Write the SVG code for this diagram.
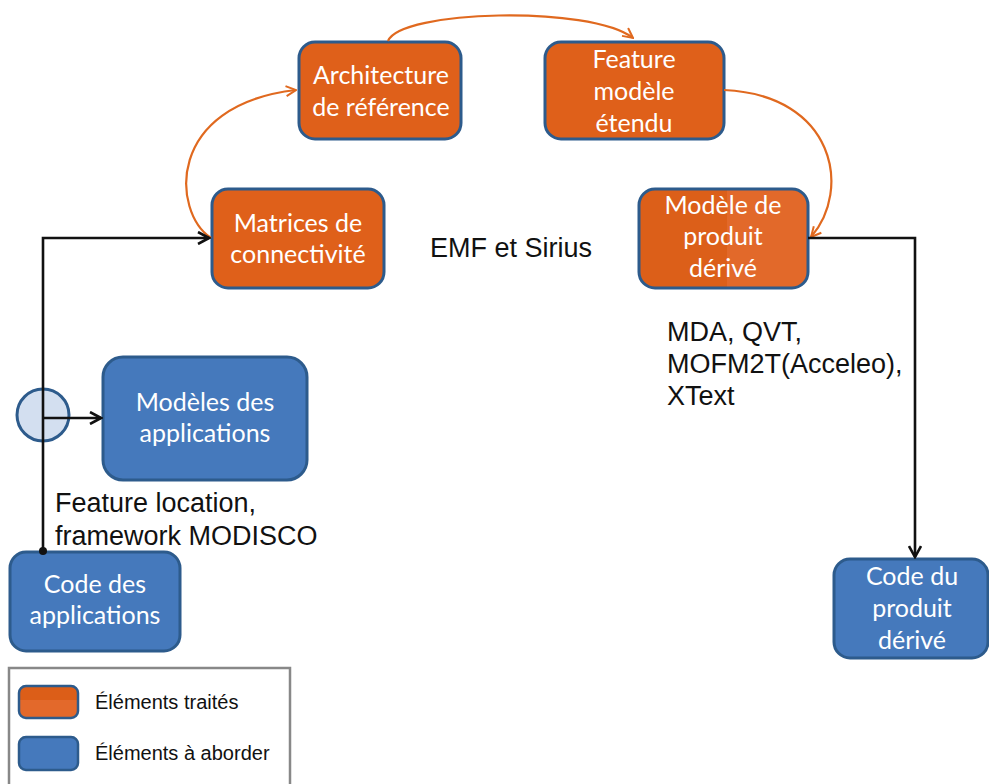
<svg xmlns="http://www.w3.org/2000/svg" width="989" height="784" viewBox="0 0 989 784">
<defs>
<marker id="ao" viewBox="0 0 12 12" refX="11" refY="6" markerWidth="12" markerHeight="12" markerUnits="userSpaceOnUse" orient="auto">
<path d="M1,1 L11,6 L1,11" fill="none" stroke="#e0691f" stroke-width="2"/>
</marker>
<marker id="ab" viewBox="0 0 14 14" refX="12" refY="7" markerWidth="14" markerHeight="14" markerUnits="userSpaceOnUse" orient="auto">
<path d="M1,1 L12,7 L1,13" fill="none" stroke="#111" stroke-width="2.6"/>
</marker>
<linearGradient id="split" x1="0" y1="0" x2="1" y2="0">
<stop offset="0" stop-color="#dc5f19"/><stop offset="0.52" stop-color="#dc5f19"/>
<stop offset="0.52" stop-color="#e2692a"/><stop offset="1" stop-color="#e2692a"/>
</linearGradient>
<linearGradient id="sw" x1="0" y1="0" x2="0" y2="1">
<stop offset="0" stop-color="#dc5e18"/><stop offset="0.45" stop-color="#dc5e18"/>
<stop offset="0.45" stop-color="#e3692b"/><stop offset="1" stop-color="#e3692b"/>
</linearGradient>
</defs>
<style>
.o{fill:#df601a;stroke:#2d5b8c;stroke-width:3}
.b{fill:#4579bc;stroke:#2d5b8c;stroke-width:3}
.wt{fill:#fff;font-family:Lato,"Open Sans",sans-serif;font-size:25px;text-anchor:middle}
.bt{fill:#111;font-family:"Liberation Sans",Arial,sans-serif;font-size:27px}
.lt{fill:#111;font-family:"Liberation Sans",Arial,sans-serif;font-size:20px}
.cb{fill:none;stroke:#111;stroke-width:2.6}
.co{fill:none;stroke:#e0691f;stroke-width:2.2}
</style>
<rect width="989" height="784" fill="#fff"/>
<g id="n-arch">
<rect class="o" x="299" y="42" width="162" height="97" rx="16"/>
<text class="wt" x="381" y="84">Architecture</text>
<text class="wt" x="381" y="116">de référence</text>
</g>
<g id="n-feat">
<rect class="o" x="545" y="42" width="179" height="97" rx="16"/>
<text class="wt" x="634" y="68">Feature</text>
<text class="wt" x="634" y="100">modèle</text>
<text class="wt" x="634" y="132">étendu</text>
</g>
<g id="n-mat">
<rect class="o" x="212" y="189" width="172" height="99" rx="16"/>
<text class="wt" x="298" y="232">Matrices de</text>
<text class="wt" x="298" y="263">connectivité</text>
</g>
<g id="n-mod">
<rect x="639" y="189" width="169" height="99" rx="16" fill="url(#split)" stroke="#2d5b8c" stroke-width="3"/>
<text class="wt" x="723" y="214">Modèle de</text>
<text class="wt" x="723" y="245">produit</text>
<text class="wt" x="723" y="277">dérivé</text>
</g>
<g id="n-modapp">
<rect class="b" x="103" y="357" width="204" height="123" rx="20"/>
<text class="wt" x="205" y="411">Modèles des</text>
<text class="wt" x="205" y="442">applications</text>
</g>
<g id="n-codeapp">
<rect class="b" x="10" y="552" width="170" height="99" rx="16"/>
<text class="wt" x="95" y="593">Code des</text>
<text class="wt" x="95" y="624">applications</text>
</g>
<g id="n-codeprod">
<rect class="b" x="834" y="559" width="154" height="99" rx="16"/>
<text class="wt" x="912" y="585">Code du</text>
<text class="wt" x="912" y="617">produit</text>
<text class="wt" x="912" y="649">dérivé</text>
</g>
<g id="circle">
<circle cx="43" cy="415" r="26" fill="#d3dff0" stroke="#2d5b8c" stroke-width="3"/>
</g>
<g id="connectors">
<path class="co" d="M211,238 C172,212 165,105 296,90" marker-end="url(#ao)"/>
<path class="co" d="M388,41 C400,10 590,5 633,38" marker-end="url(#ao)"/>
<path class="co" d="M724,90 C835,95 852,190 811,237" marker-end="url(#ao)"/>
<path class="cb" d="M43,551 L43,238 L209,238" marker-end="url(#ab)"/>
<path class="cb" d="M43,418 L101,418" marker-end="url(#ab)"/>
<path class="cb" d="M808,238 L915,238 L915,557" marker-end="url(#ab)"/>
<circle cx="43" cy="551" r="4" fill="#111"/>
</g>
<g id="labels">
<text class="bt" x="430" y="257">EMF et Sirius</text>
<text class="bt" x="55" y="512">Feature location,</text>
<text class="bt" x="55" y="545">framework MODISCO</text>
<text class="bt" x="667" y="341">MDA, QVT,</text>
<text class="bt" x="667" y="373">MOFM2T(Acceleo),</text>
<text class="bt" x="667" y="405">XText</text>
</g>
<g id="legend">
<rect x="9" y="668" width="281" height="130" fill="#fff" stroke="#888" stroke-width="2.5"/>
<rect x="19" y="686" width="59" height="32" rx="7" fill="url(#sw)" stroke="#2d5b8c" stroke-width="2.5"/>
<text class="lt" x="95" y="709">Éléments traités</text>
<rect x="19" y="737" width="59" height="33" rx="7" fill="#4579bc" stroke="#2d5b8c" stroke-width="2.5"/>
<text class="lt" x="95" y="760">Éléments à aborder</text>
</g>
</svg>
